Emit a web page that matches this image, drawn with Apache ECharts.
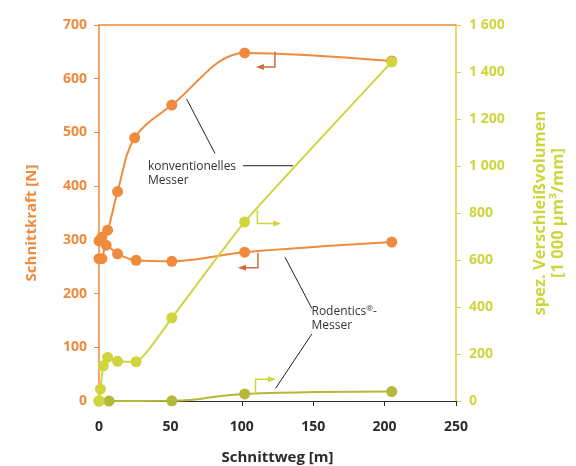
<!DOCTYPE html>
<html>
<head>
<meta charset="utf-8">
<script src="https://cdn.jsdelivr.net/npm/echarts@6/dist/echarts.min.js"></script>
<style>html,body{margin:0;padding:0;background:#fff}#c{width:576px;height:466px}</style>
</head>
<body>
<div id="c"></div>
<script>
// Data (Schnittweg [m], value)
const convForce = [[0,298],[2,305],[6,318],[13,390],[25,490],[51,551],[102,648],[205,633]];
const rodForce  = [[0,265],[2,265],[5,290],[13,274],[26,262],[51,260],[102,277],[205,296]];
const convWear  = [[0,0],[1,51],[3,150],[6,186],[13,169],[26,167],[51,354],[102,762],[205,1443]];
const rodWear   = [[0,0],[7,0],[51,1],[102,30],[205,40]];
const xTicks = {min:0, max:250, interval:50};
const yLeft  = {min:0, max:700, interval:100};
const yRight = {min:0, max:1600, interval:200};

const ORANGE = '#F08A3C', GREEN = '#CFD53D', OLIVE = '#B4B93A', DARK = '#2b2b2b';
const FONT = 'Open Sans';

const chart = echarts.init(document.getElementById('c'), null, {renderer:'canvas'});
function fmtSpace(v){ return v >= 1000 ? Math.floor(v/1000) + ' ' + String(v%1000).padStart(3,'0') : String(v); }

chart.setOption({
  animation:false,
  backgroundColor:'#fff',
  grid:{left:99, right:120, top:25, bottom:65, containLabel:false, outerBoundsMode:'none'},
  xAxis:[{
    type:'value', min:xTicks.min, max:xTicks.max, interval:xTicks.interval, position:'bottom',
    name:'Schnittweg [m]', nameLocation:'middle', nameGap:49,
    nameTextStyle:{color:DARK, fontFamily:FONT, fontWeight:'bold', fontSize:15},
    axisLine:{show:true, onZero:false, lineStyle:{color:DARK, width:1.2}},
    axisTick:{show:true, length:5, lineStyle:{color:DARK}},
    axisLabel:{color:DARK, fontFamily:FONT, fontWeight:'bold', fontSize:14, margin:19},
    splitLine:{show:false}
  },{
    type:'value', position:'top', min:xTicks.min, max:xTicks.max, show:true,
    axisLine:{show:true, onZero:false, lineStyle:{color:ORANGE, width:1.5}},
    axisTick:{show:false}, axisLabel:{show:false}, splitLine:{show:false}
  }],
  yAxis:[{
    type:'value', min:yLeft.min, max:yLeft.max, interval:yLeft.interval, position:'left',
    name:'Schnittkraft [N]', nameLocation:'middle', nameGap:60,
    nameTextStyle:{color:ORANGE, fontFamily:FONT, fontWeight:'bold', fontSize:15, padding:[0,20,0,0]},
    axisLine:{show:true, onZero:false, lineStyle:{color:ORANGE, width:1.5}},
    axisTick:{show:true, length:5, lineStyle:{color:ORANGE}},
    axisLabel:{color:ORANGE, fontFamily:FONT, fontWeight:'bold', fontSize:14, margin:12},
    splitLine:{show:false}
  },{
    type:'value', position:'right', min:yRight.min, max:yRight.max, interval:yRight.interval,
    name:'spez. Verschleißvolumen\n[1 000 µm³/mm]', nameLocation:'middle', nameGap:75, nameRotate:90,
    nameTextStyle:{color:GREEN, fontFamily:FONT, fontWeight:'bold', fontSize:16.5, lineHeight:18, align:'center'},
    axisLine:{show:true, onZero:false, lineStyle:{color:'#D9D13A', width:1.5}},
    axisTick:{show:true, length:5, lineStyle:{color:'#D9D13A'}},
    axisLabel:{color:GREEN, fontFamily:FONT, fontWeight:'bold', fontSize:14, margin:13, formatter:fmtSpace},
    splitLine:{show:false}
  }],
  series:[
    {type:'line', name:'konv. Kraft', yAxisIndex:0, data:convForce, smooth:0.35,
     symbol:'circle', symbolSize:11, lineStyle:{color:ORANGE, width:2}, itemStyle:{color:ORANGE}, z:2},
    {type:'line', name:'Rod. Kraft', yAxisIndex:0, data:rodForce, smooth:0.35,
     symbol:'circle', symbolSize:11, lineStyle:{color:ORANGE, width:2}, itemStyle:{color:ORANGE}, z:2},
    {type:'line', name:'Rod. Verschleiß', yAxisIndex:1, data:rodWear, smooth:0.45,
     symbol:'circle', symbolSize:11, lineStyle:{color:OLIVE, width:2}, itemStyle:{color:OLIVE}, z:3},
    {type:'line', name:'konv. Verschleiß', yAxisIndex:1, data:convWear, smooth:0.15,
     symbol:'circle', symbolSize:11, lineStyle:{color:GREEN, width:2}, itemStyle:{color:GREEN}, z:4}
  ]
});

// Annotations positioned in data space (x in m; y on left or right axis)
function P(x, y, axis){ return chart.convertToPixel({xAxisIndex:0, yAxisIndex: axis==='R'?1:0}, [x, y]); }
const BROWN = '#C8703C';
function bracket(pts, color){
  const a = pts.map(p => P(p[0], p[1], p[2]));
  const last = a[a.length-1], prev = a[a.length-2];
  const dir = Math.sign(last[0]-prev[0]);
  return [
    {type:'polyline', shape:{points:a}, style:{stroke:color, lineWidth:1.5, fill:null}, z:10},
    {type:'polygon', shape:{points:[[last[0]+dir*2,last[1]],[last[0]-dir*6,last[1]-3],[last[0]-dir*6,last[1]+3]]}, style:{fill:color}, z:10}
  ];
}
function leader(p1, p2){
  const a = P(p1[0],p1[1]), b = P(p2[0],p2[1]);
  return {type:'line', shape:{x1:a[0],y1:a[1],x2:b[0],y2:b[1]}, style:{stroke:'#222', lineWidth:1}, z:10};
}
function label(x, y, txt){
  const a = P(x, y);
  return {type:'text', x:a[0], y:a[1], style:{text:txt, fill:'#333', font:'12px "Open Sans"', lineHeight:14, textVerticalAlign:'top',
    rich:{sup:{fontSize:8, verticalAlign:'top', padding:[0,0,6,0], fill:'#333', fontFamily:'Open Sans'}}}, z:10};
}
const g = [];
g.push(...bracket([[123.2,650,'L'],[123.2,622,'L'],[111.3,622,'L']], BROWN));
g.push(...bracket([[111.3,276,'L'],[111.3,248,'L'],[98.7,248,'L']], BROWN));
g.push(...bracket([[110.9,812,'R'],[110.9,755,'R'],[126.1,755,'R']], GREEN));
g.push(...bracket([[109.6,30,'R'],[109.6,93,'R'],[122.5,93,'R']], GREEN));
g.push(leader([61.4,562],[81.2,461]));
g.push(leader([100.8,438],[135.9,438]));
g.push(leader([130.3,267.5],[149,172.6]));
g.push(leader([149,124.7],[123.7,23.6]));
g.push(label(34.3,450,'konventionelles\nMesser'));
g.push(label(148.8,180,'Rodentics{sup|®}-\nMesser'));
chart.setOption({graphic:g});
</script>
</body>
</html>
